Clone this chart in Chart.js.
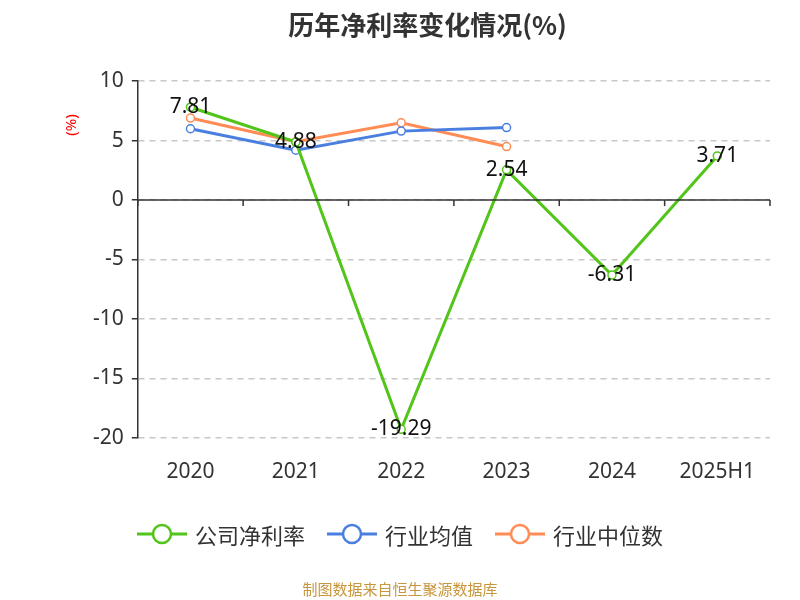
<!DOCTYPE html>
<html><head><meta charset="utf-8">
<script src="https://cdn.jsdelivr.net/npm/chart.js@4"></script>
<style>
body{margin:0;background:#fff;font-family:"Noto Sans CJK SC","Noto Sans",sans-serif;}
#wrap{position:relative;width:800px;height:600px;}
#legend{position:absolute;top:518px;left:0;width:800px;display:flex;justify-content:center;gap:22px;font-size:22px;color:#333;}
.li{display:flex;align-items:center;gap:8px;}
#src{position:absolute;top:578px;width:800px;text-align:center;font-size:15px;color:#c8963c;}
</style></head><body>
<div id="wrap"><canvas id="c" width="800" height="600"></canvas>
<div id="legend"></div>
<div id="src">制图数据来自恒生聚源数据库</div></div>
<script>
const categories=["2020","2021","2022","2023","2024","2025H1"];
const companyRate=[7.81,4.88,-19.29,2.54,-6.31,3.71];
const industryAvg=[6.0,4.2,5.8,6.1,null,null];
const industryMedian=[6.9,4.9,6.5,4.5,null,null];
const seriesNames=["公司净利率","行业均值","行业中位数"];
const colors=["#52c41a","#4a7fe0","#ff8c55"];
Chart.defaults.font.family='"Noto Sans",sans-serif';

const lg=document.getElementById('legend');
seriesNames.forEach((n,i)=>{
 lg.innerHTML+=`<div class="li"><svg width="50" height="24"><line x1="0" y1="12" x2="50" y2="12" stroke="${colors[i]}" stroke-width="3"/><circle cx="25" cy="12" r="9" fill="#fff" stroke="${colors[i]}" stroke-width="2.5"/></svg><span>${n}</span></div>`;
});

const extras={id:'extras',
 afterDraw(ch){
  const c=ch.ctx,x=ch.scales.x,y=ch.scales.y;
  const y0=y.getPixelForValue(0);
  c.save();
  c.strokeStyle='#333';c.lineWidth=1.5;
  c.beginPath();c.moveTo(x.left,y0);c.lineTo(x.right,y0);c.stroke();
  const w=(x.right-x.left)/categories.length;
  for(let i=0;i<=categories.length;i++){const px=x.left+i*w;c.beginPath();c.moveTo(px,y0);c.lineTo(px,y0+6);c.stroke();}
  c.fillStyle='#111';c.font='21px "Noto Sans","DejaVu Sans",sans-serif';c.textAlign='center';c.textBaseline='middle';
  const m=ch.getDatasetMeta(0);
  m.data.forEach((p,i)=>{c.fillText(companyRate[i].toFixed(2),p.x,p.y);});
  c.fillStyle='red';c.font='15px "Noto Sans",sans-serif';
  c.translate(72,125);c.rotate(-Math.PI/2);c.fillText('(%)',0,0);
  c.restore();
 }};

new Chart(document.getElementById('c'),{
 type:'line',
 data:{labels:categories,datasets:[
  {label:seriesNames[0],data:companyRate,borderColor:colors[0],order:0},
  {label:seriesNames[1],data:industryAvg,borderColor:colors[1],order:1},
  {label:seriesNames[2],data:industryMedian,borderColor:colors[2],order:2}
 ].map(d=>Object.assign(d,{backgroundColor:'#fff',borderWidth:3,pointRadius:4,pointBorderWidth:1.5,pointBackgroundColor:'#fff',tension:0,spanGaps:false}))},
 options:{responsive:false,animation:false,
  layout:{padding:{left:85,right:30,top:8,bottom:101}},
  plugins:{legend:{display:false},tooltip:{enabled:false},
   title:{display:true,text:'历年净利率变化情况(%)',color:'#333',font:{size:26,weight:'bold',family:'"Noto Sans CJK SC"'},padding:{top:2,bottom:40}}},
  scales:{
   x:{offset:true,grid:{display:false},border:{display:false},ticks:{color:'#333',font:{size:21},padding:14}},
   y:{min:-20,max:10,ticks:{stepSize:5,color:'#333',font:{size:21},padding:8},
      border:{display:true,color:'#333',width:1.5,dash:[6,5]},
      grid:{color:'#c8c8c8',lineWidth:1.5,drawTicks:true,tickLength:6,tickColor:'#333'}}
  }},
 plugins:[extras]});
</script></body></html>
